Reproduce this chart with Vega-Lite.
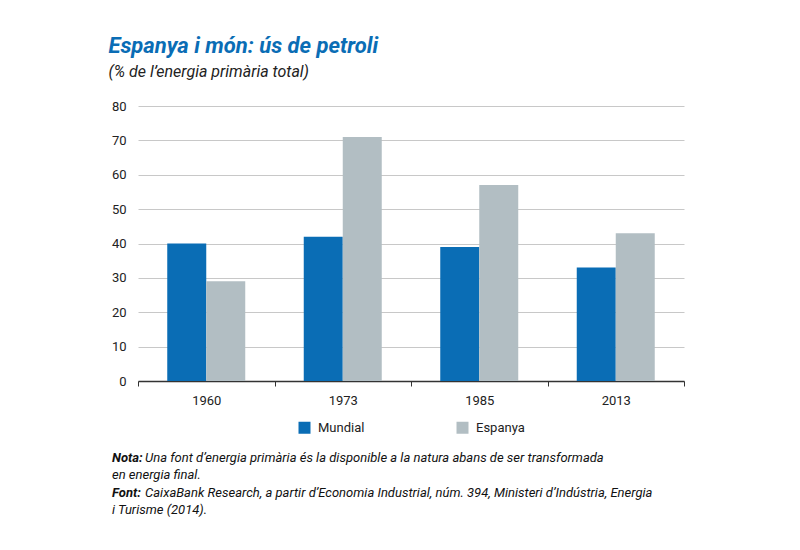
{
  "$schema": "https://vega.github.io/schema/vega-lite/v6.json",
  "background": "white",
  "padding": {"left": 108, "top": 35, "right": 10, "bottom": 10},
  "title": {
    "text": "Espanya i món: ús de petroli",
    "subtitle": "(% de l’energia primària total)",
    "anchor": "start",
    "dx": -3,
    "font": "Roboto",
    "fontSize": 22,
    "fontStyle": "italic",
    "fontWeight": "bold",
    "color": "#0a6db5",
    "subtitleFont": "Roboto",
    "subtitleFontSize": 16,
    "subtitleFontStyle": "italic",
    "subtitleColor": "#222222",
    "subtitlePadding": 6,
    "offset": 19
  },
  "vconcat": [
    {
      "width": 546,
      "height": 275,
      "data": {
        "values": [
          {"any": "1960", "serie": "Mundial", "valor": 40},
          {"any": "1960", "serie": "Espanya", "valor": 29},
          {"any": "1973", "serie": "Mundial", "valor": 42},
          {"any": "1973", "serie": "Espanya", "valor": 71},
          {"any": "1985", "serie": "Mundial", "valor": 39},
          {"any": "1985", "serie": "Espanya", "valor": 57},
          {"any": "2013", "serie": "Mundial", "valor": 33},
          {"any": "2013", "serie": "Espanya", "valor": 43}
        ]
      },
      "mark": {"type": "bar"},
      "encoding": {
        "x": {
          "field": "any",
          "type": "nominal",
          "scale": {"paddingInner": 0, "paddingOuter": 0},
          "axis": {
            "title": null,
            "labelAngle": 0,
            "labelFont": "Roboto",
            "labelFontSize": 13,
            "labelColor": "#222222",
            "labelPadding": 8,
            "domainColor": "#333333",
            "domainWidth": 1.5,
            "tickColor": "#333333",
            "tickBand": "extent",
            "tickSize": 5
          }
        },
        "xOffset": {
          "field": "serie",
          "sort": ["Mundial", "Espanya"],
          "scale": {"paddingInner": 0, "paddingOuter": 0.75}
        },
        "y": {
          "field": "valor",
          "type": "quantitative",
          "scale": {"domain": [0, 80]},
          "axis": {
            "title": null,
            "values": [0, 10, 20, 30, 40, 50, 60, 70, 80],
            "domain": false,
            "ticks": false,
            "labelFont": "Roboto",
            "labelFontSize": 13,
            "labelColor": "#222222",
            "labelPadding": 12,
            "gridColor": "#c8c8c8",
            "gridWidth": 1
          }
        },
        "color": {
          "field": "serie",
          "type": "nominal",
          "sort": ["Mundial", "Espanya"],
          "scale": {"domain": ["Mundial", "Espanya"], "range": ["#0a6db5", "#b2bec3"]},
          "legend": {
            "title": null,
            "orient": "none",
            "legendX": 160,
            "legendY": 315,
            "direction": "horizontal",
            "symbolType": "square",
            "symbolSize": 144,
            "symbolStrokeWidth": 0,
            "symbolOpacity": 1,
            "labelFont": "Roboto",
            "labelFontSize": 13,
            "labelColor": "#222222",
            "labelOffset": 7,
            "columnPadding": 91
          }
        }
      }
    },
    {
      "width": 546,
      "height": 52,
      "data": {
        "values": [
          {"linia": 1, "cap": "Nota:", "text": "Una font d’energia primària és la disponible a la natura abans de ser transformada"},
          {"linia": 2, "cap": "", "text": "en energia final."},
          {"linia": 3, "cap": "Font:", "text": "CaixaBank Research, a partir d’Economia Industrial, núm. 394, Ministeri d’Indústria, Energia"},
          {"linia": 4, "cap": "", "text": "i Turisme (2014)."}
        ]
      },
      "encoding": {
        "y": {
          "field": "linia",
          "type": "ordinal",
          "scale": {"type": "point", "padding": 0},
          "axis": null
        },
        "x": {"value": 0}
      },
      "layer": [
        {
          "transform": [{"filter": "datum.cap != ''"}],
          "mark": {"type": "text", "align": "left", "dx": -26, "font": "Roboto", "fontSize": 13, "fontStyle": "italic", "fontWeight": "bold", "color": "#111111"},
          "encoding": {"text": {"field": "cap"}}
        },
        {
          "transform": [{"filter": "datum.cap != ''"}],
          "mark": {"type": "text", "align": "left", "dx": 7, "font": "Roboto", "fontSize": 13, "fontStyle": "italic", "color": "#111111"},
          "encoding": {"text": {"field": "text"}}
        },
        {
          "transform": [{"filter": "datum.cap == ''"}],
          "mark": {"type": "text", "align": "left", "dx": -26, "font": "Roboto", "fontSize": 13, "fontStyle": "italic", "color": "#111111"},
          "encoding": {"text": {"field": "text"}}
        }
      ]
    }
  ],
  "spacing": 45,
  "config": {
    "view": {"stroke": null},
    "bar": {"stroke": null}
  }
}
